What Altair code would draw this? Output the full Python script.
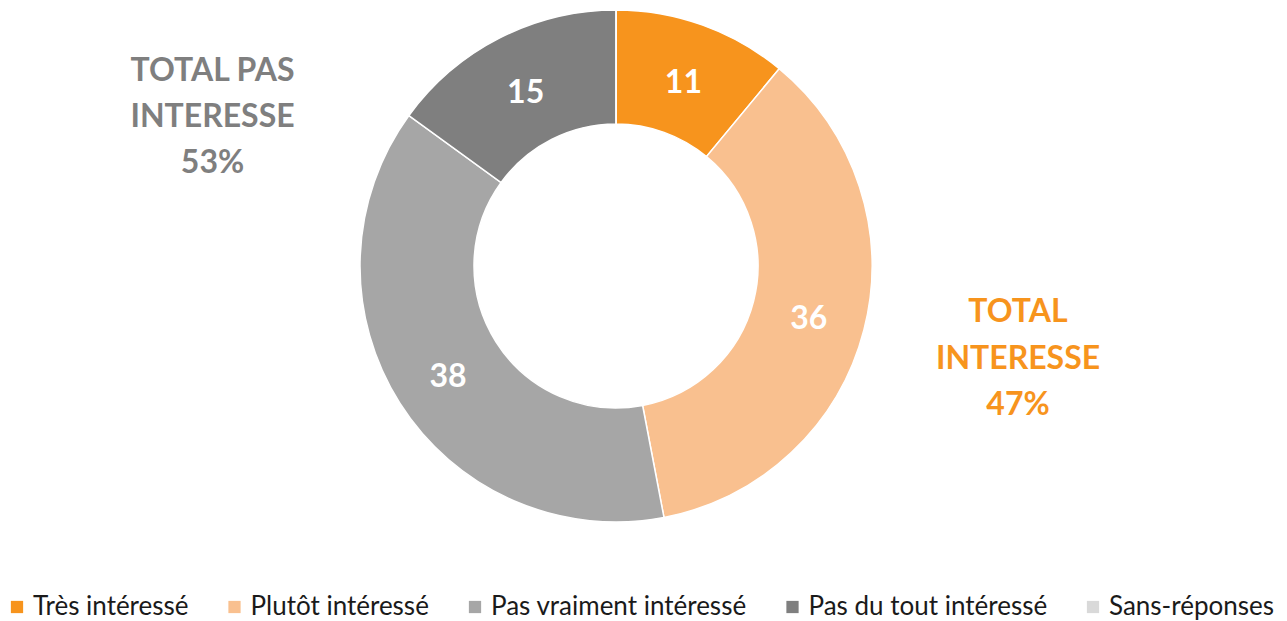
import altair as alt
import pandas as pd

categories = ["Très intéressé", "Plutôt intéressé", "Pas vraiment intéressé",
              "Pas du tout intéressé", "Sans-réponses"]
values = [11, 36, 38, 15, 0]
colors = ["#F7941D", "#F9C08F", "#A6A6A6", "#7F7F7F", "#D9D9D9"]

total_int_words = ["TOTAL", "INTERESSE"]
total_pas_words = ["TOTAL PAS", "INTERESSE"]

df = pd.DataFrame({"cat": categories, "value": values, "order": list(range(len(values)))})
df["label"] = [str(v) if v > 0 else "" for v in values]

pct_int = values[0] + values[1]
pct_pas = values[2] + values[3]

FONT = "Lato"

color_scale = alt.Scale(domain=categories, range=colors)

base = alt.Chart(df)

arcs = base.mark_arc(outerRadius=256, innerRadius=142, stroke="white", strokeWidth=1.5).encode(
    theta=alt.Theta("value:Q", stack=True),
    order=alt.Order("order:Q"),
    color=alt.Color("cat:N", scale=color_scale, sort=categories,
                    legend=alt.Legend(
                        title=None, orient="none", legendX=-4, legendY=586,
                        direction="horizontal", columns=5,
                        symbolType="square", symbolSize=150, symbolStrokeWidth=0,
                        labelFont=FONT, labelFontSize=26, labelColor="#1a1a1a",
                        labelOffset=3, columnPadding=32.5, padding=0,
                        labelLimit=400)),
)

labels = base.mark_text(radius=199, font=FONT, fontSize=32, fontWeight="bold",
                        color="white", baseline="middle", align="center", dy=4).encode(
    theta=alt.Theta("value:Q", stack=True),
    order=alt.Order("order:Q"),
    text="label:N",
)

left_txt = alt.Chart(pd.DataFrame({"a": [0]})).mark_text(
    x=204.5, y=73, align="center", baseline="alphabetic", font=FONT, fontSize=32,
    fontWeight="bold", color="#7F7F7F", lineHeight=46,
).encode(text=alt.value(total_pas_words + [f"{pct_pas}%"]))

right_txt = alt.Chart(pd.DataFrame({"a": [0]})).mark_text(
    x=1010, y=314, align="center", baseline="alphabetic", font=FONT, fontSize=32,
    fontWeight="bold", color="#F7941D", lineHeight=46.5,
).encode(text=alt.value(total_int_words + [f"{pct_int}%"]))

chart = alt.layer(arcs, labels, left_txt, right_txt).properties(
    width=1216, height=516,
    autosize=alt.AutoSizeParams(type="none"),
    padding={"left": 0, "top": 0, "right": 55, "bottom": 97},
).configure_view(stroke=None)

chart.save("out.html", embed_options={"renderer": "svg", "actions": False})
